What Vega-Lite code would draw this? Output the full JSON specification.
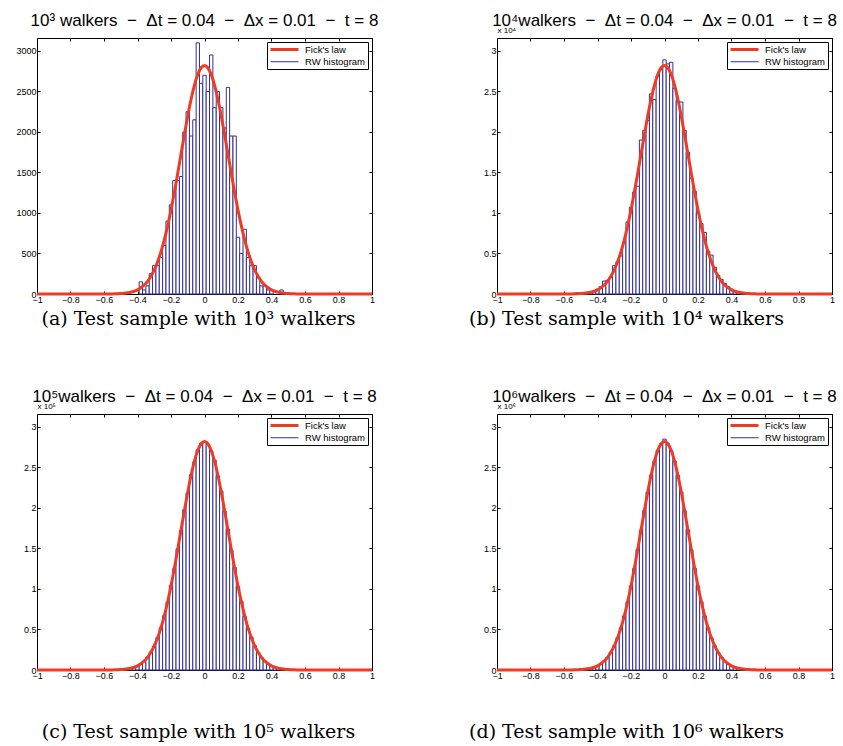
{
  "$schema": "https://vega.github.io/schema/vega-lite/v6.json",
  "background": "white",
  "padding": {"left": 15, "top": 11, "right": 5, "bottom": 5},
  "config": {
    "view": {"stroke": "black", "strokeWidth": 1},
    "axis": {"labelFont": "Liberation Sans", "labelFontSize": 9, "labelColor": "black", "tickColor": "black", "tickSize": -3, "labelPadding": 4, "domain": false, "grid": false, "titleFontWeight": "normal", "titleColor": "black", "labelOverlap": false, "labelFlush": false},
    "axisBottom": {"titleFont": "DejaVu Serif", "titleFontSize": 19},
    "title": {"font": "Liberation Sans", "fontSize": 17, "fontWeight": "normal", "color": "black", "offset": -4, "anchor": "middle", "baseline": "alphabetic", "frame": "group"},
    "legend": {"title": null, "orient": "top-right", "offset": 4, "strokeColor": "black", "fillColor": "white", "padding": 2, "cornerRadius": 0, "labelFont": "Liberation Sans", "labelFontSize": 9.5, "labelColor": "black", "symbolType": "M-1,0H6", "symbolSize": 64, "labelOffset": 25, "rowPadding": 0}
  },
  "datasets": {
    "curveA": [
      {"x": -1, "y": 0, "series": "Fick's law"}, {"x": -0.8, "y": 0, "series": "Fick's law"}, {"x": -0.7, "y": 0.05, "series": "Fick's law"}, {"x": -0.6, "y": 0.35, "series": "Fick's law"}, {"x": -0.58, "y": 0.6, "series": "Fick's law"}, {"x": -0.56, "y": 1.1, "series": "Fick's law"}, {"x": -0.54, "y": 1.9, "series": "Fick's law"}, {"x": -0.52, "y": 3.3, "series": "Fick's law"}, {"x": -0.5, "y": 5.4, "series": "Fick's law"}, {"x": -0.48, "y": 8.9, "series": "Fick's law"}, {"x": -0.46, "y": 14.2, "series": "Fick's law"}, {"x": -0.44, "y": 22.3, "series": "Fick's law"}, {"x": -0.42, "y": 34.3, "series": "Fick's law"}, {"x": -0.4, "y": 51.7, "series": "Fick's law"}, {"x": -0.38, "y": 76.3, "series": "Fick's law"}, {"x": -0.36, "y": 110.5, "series": "Fick's law"}, {"x": -0.34, "y": 156.8, "series": "Fick's law"}, {"x": -0.32, "y": 218.1, "series": "Fick's law"}, {"x": -0.3, "y": 297.3, "series": "Fick's law"}, {"x": -0.28, "y": 397.4, "series": "Fick's law"}, {"x": -0.26, "y": 520.5, "series": "Fick's law"}, {"x": -0.24, "y": 668.4, "series": "Fick's law"}, {"x": -0.22, "y": 841.2, "series": "Fick's law"}, {"x": -0.2, "y": 1037.8, "series": "Fick's law"}, {"x": -0.18, "y": 1255, "series": "Fick's law"}, {"x": -0.16, "y": 1487.5, "series": "Fick's law"}, {"x": -0.14, "y": 1728.2, "series": "Fick's law"}, {"x": -0.12, "y": 1968.2, "series": "Fick's law"}, {"x": -0.1, "y": 2197, "series": "Fick's law"}, {"x": -0.08, "y": 2403.9, "series": "Fick's law"}, {"x": -0.06, "y": 2578.2, "series": "Fick's law"}, {"x": -0.04, "y": 2710.4, "series": "Fick's law"}, {"x": -0.02, "y": 2792.9, "series": "Fick's law"}, {"x": 0, "y": 2820.9, "series": "Fick's law"},
      {"x": 0.02, "y": 2792.9, "series": "Fick's law"}, {"x": 0.04, "y": 2710.4, "series": "Fick's law"}, {"x": 0.06, "y": 2578.2, "series": "Fick's law"}, {"x": 0.08, "y": 2403.9, "series": "Fick's law"}, {"x": 0.1, "y": 2197, "series": "Fick's law"}, {"x": 0.12, "y": 1968.2, "series": "Fick's law"}, {"x": 0.14, "y": 1728.2, "series": "Fick's law"}, {"x": 0.16, "y": 1487.5, "series": "Fick's law"}, {"x": 0.18, "y": 1255, "series": "Fick's law"}, {"x": 0.2, "y": 1037.8, "series": "Fick's law"}, {"x": 0.22, "y": 841.2, "series": "Fick's law"}, {"x": 0.24, "y": 668.4, "series": "Fick's law"}, {"x": 0.26, "y": 520.5, "series": "Fick's law"}, {"x": 0.28, "y": 397.4, "series": "Fick's law"}, {"x": 0.3, "y": 297.3, "series": "Fick's law"}, {"x": 0.32, "y": 218.1, "series": "Fick's law"}, {"x": 0.34, "y": 156.8, "series": "Fick's law"}, {"x": 0.36, "y": 110.5, "series": "Fick's law"}, {"x": 0.38, "y": 76.3, "series": "Fick's law"}, {"x": 0.4, "y": 51.7, "series": "Fick's law"}, {"x": 0.42, "y": 34.3, "series": "Fick's law"}, {"x": 0.44, "y": 22.3, "series": "Fick's law"}, {"x": 0.46, "y": 14.2, "series": "Fick's law"}, {"x": 0.48, "y": 8.9, "series": "Fick's law"}, {"x": 0.5, "y": 5.4, "series": "Fick's law"}, {"x": 0.52, "y": 3.3, "series": "Fick's law"}, {"x": 0.54, "y": 1.9, "series": "Fick's law"}, {"x": 0.56, "y": 1.1, "series": "Fick's law"}, {"x": 0.58, "y": 0.6, "series": "Fick's law"}, {"x": 0.6, "y": 0.35, "series": "Fick's law"}, {"x": 0.7, "y": 0.05, "series": "Fick's law"}, {"x": 0.8, "y": 0, "series": "Fick's law"}, {"x": 1, "y": 0, "series": "Fick's law"}
    ],
    "curve": [
      {"x": -1, "y": 0, "series": "Fick's law"}, {"x": -0.8, "y": 0, "series": "Fick's law"}, {"x": -0.7, "y": 0.00005, "series": "Fick's law"}, {"x": -0.6, "y": 0.00035, "series": "Fick's law"}, {"x": -0.58, "y": 0.0006, "series": "Fick's law"}, {"x": -0.56, "y": 0.0011, "series": "Fick's law"}, {"x": -0.54, "y": 0.0019, "series": "Fick's law"}, {"x": -0.52, "y": 0.0033, "series": "Fick's law"}, {"x": -0.5, "y": 0.0054, "series": "Fick's law"}, {"x": -0.48, "y": 0.0089, "series": "Fick's law"}, {"x": -0.46, "y": 0.0142, "series": "Fick's law"}, {"x": -0.44, "y": 0.0223, "series": "Fick's law"}, {"x": -0.42, "y": 0.0343, "series": "Fick's law"}, {"x": -0.4, "y": 0.0517, "series": "Fick's law"}, {"x": -0.38, "y": 0.0763, "series": "Fick's law"}, {"x": -0.36, "y": 0.1105, "series": "Fick's law"}, {"x": -0.34, "y": 0.1568, "series": "Fick's law"}, {"x": -0.32, "y": 0.2181, "series": "Fick's law"}, {"x": -0.3, "y": 0.2973, "series": "Fick's law"}, {"x": -0.28, "y": 0.3974, "series": "Fick's law"}, {"x": -0.26, "y": 0.5205, "series": "Fick's law"}, {"x": -0.24, "y": 0.6684, "series": "Fick's law"}, {"x": -0.22, "y": 0.8412, "series": "Fick's law"}, {"x": -0.2, "y": 1.0378, "series": "Fick's law"}, {"x": -0.18, "y": 1.255, "series": "Fick's law"}, {"x": -0.16, "y": 1.4875, "series": "Fick's law"}, {"x": -0.14, "y": 1.7282, "series": "Fick's law"}, {"x": -0.12, "y": 1.9682, "series": "Fick's law"}, {"x": -0.1, "y": 2.197, "series": "Fick's law"}, {"x": -0.08, "y": 2.4039, "series": "Fick's law"}, {"x": -0.06, "y": 2.5782, "series": "Fick's law"}, {"x": -0.04, "y": 2.7104, "series": "Fick's law"}, {"x": -0.02, "y": 2.7929, "series": "Fick's law"}, {"x": 0, "y": 2.8209, "series": "Fick's law"},
      {"x": 0.02, "y": 2.7929, "series": "Fick's law"}, {"x": 0.04, "y": 2.7104, "series": "Fick's law"}, {"x": 0.06, "y": 2.5782, "series": "Fick's law"}, {"x": 0.08, "y": 2.4039, "series": "Fick's law"}, {"x": 0.1, "y": 2.197, "series": "Fick's law"}, {"x": 0.12, "y": 1.9682, "series": "Fick's law"}, {"x": 0.14, "y": 1.7282, "series": "Fick's law"}, {"x": 0.16, "y": 1.4875, "series": "Fick's law"}, {"x": 0.18, "y": 1.255, "series": "Fick's law"}, {"x": 0.2, "y": 1.0378, "series": "Fick's law"}, {"x": 0.22, "y": 0.8412, "series": "Fick's law"}, {"x": 0.24, "y": 0.6684, "series": "Fick's law"}, {"x": 0.26, "y": 0.5205, "series": "Fick's law"}, {"x": 0.28, "y": 0.3974, "series": "Fick's law"}, {"x": 0.3, "y": 0.2973, "series": "Fick's law"}, {"x": 0.32, "y": 0.2181, "series": "Fick's law"}, {"x": 0.34, "y": 0.1568, "series": "Fick's law"}, {"x": 0.36, "y": 0.1105, "series": "Fick's law"}, {"x": 0.38, "y": 0.0763, "series": "Fick's law"}, {"x": 0.4, "y": 0.0517, "series": "Fick's law"}, {"x": 0.42, "y": 0.0343, "series": "Fick's law"}, {"x": 0.44, "y": 0.0223, "series": "Fick's law"}, {"x": 0.46, "y": 0.0142, "series": "Fick's law"}, {"x": 0.48, "y": 0.0089, "series": "Fick's law"}, {"x": 0.5, "y": 0.0054, "series": "Fick's law"}, {"x": 0.52, "y": 0.0033, "series": "Fick's law"}, {"x": 0.54, "y": 0.0019, "series": "Fick's law"}, {"x": 0.56, "y": 0.0011, "series": "Fick's law"}, {"x": 0.58, "y": 0.0006, "series": "Fick's law"}, {"x": 0.6, "y": 0.00035, "series": "Fick's law"}, {"x": 0.7, "y": 0.00005, "series": "Fick's law"}, {"x": 0.8, "y": 0, "series": "Fick's law"}, {"x": 1, "y": 0, "series": "Fick's law"}
    ],
    "barsA": [
      {"x0": -0.39, "x1": -0.37, "y": 150, "series": "RW histogram"}, {"x0": -0.37, "x1": -0.35, "y": 50, "series": "RW histogram"}, {"x0": -0.35, "x1": -0.33, "y": 100, "series": "RW histogram"}, {"x0": -0.33, "x1": -0.31, "y": 250, "series": "RW histogram"}, {"x0": -0.31, "x1": -0.29, "y": 350, "series": "RW histogram"}, {"x0": -0.29, "x1": -0.27, "y": 350, "series": "RW histogram"}, {"x0": -0.27, "x1": -0.25, "y": 450, "series": "RW histogram"}, {"x0": -0.25, "x1": -0.23, "y": 600, "series": "RW histogram"}, {"x0": -0.23, "x1": -0.21, "y": 900, "series": "RW histogram"}, {"x0": -0.21, "x1": -0.19, "y": 1100, "series": "RW histogram"}, {"x0": -0.19, "x1": -0.17, "y": 1400, "series": "RW histogram"}, {"x0": -0.17, "x1": -0.15, "y": 1400, "series": "RW histogram"}, {"x0": -0.15, "x1": -0.13, "y": 1450, "series": "RW histogram"}, {"x0": -0.13, "x1": -0.11, "y": 2000, "series": "RW histogram"}, {"x0": -0.11, "x1": -0.09, "y": 2250, "series": "RW histogram"}, {"x0": -0.09, "x1": -0.07, "y": 1950, "series": "RW histogram"}, {"x0": -0.07, "x1": -0.05, "y": 2150, "series": "RW histogram"}, {"x0": -0.05, "x1": -0.03, "y": 3100, "series": "RW histogram"}, {"x0": -0.03, "x1": -0.01, "y": 2600, "series": "RW histogram"}, {"x0": -0.01, "x1": 0.01, "y": 2700, "series": "RW histogram"}, {"x0": 0.01, "x1": 0.03, "y": 2500, "series": "RW histogram"}, {"x0": 0.03, "x1": 0.05, "y": 2950, "series": "RW histogram"}, {"x0": 0.05, "x1": 0.07, "y": 2300, "series": "RW histogram"}, {"x0": 0.07, "x1": 0.09, "y": 2500, "series": "RW histogram"}, {"x0": 0.09, "x1": 0.11, "y": 2300, "series": "RW histogram"}, {"x0": 0.11, "x1": 0.13, "y": 2050, "series": "RW histogram"}, {"x0": 0.13, "x1": 0.15, "y": 2550, "series": "RW histogram"}, {"x0": 0.15, "x1": 0.17, "y": 1950, "series": "RW histogram"}, {"x0": 0.17, "x1": 0.19, "y": 1950, "series": "RW histogram"}, {"x0": 0.19, "x1": 0.21, "y": 700, "series": "RW histogram"}, {"x0": 0.21, "x1": 0.23, "y": 500, "series": "RW histogram"}, {"x0": 0.23, "x1": 0.25, "y": 800, "series": "RW histogram"}, {"x0": 0.25, "x1": 0.27, "y": 450, "series": "RW histogram"}, {"x0": 0.27, "x1": 0.29, "y": 350, "series": "RW histogram"}, {"x0": 0.29, "x1": 0.31, "y": 350, "series": "RW histogram"}, {"x0": 0.31, "x1": 0.33, "y": 200, "series": "RW histogram"}, {"x0": 0.33, "x1": 0.35, "y": 100, "series": "RW histogram"}, {"x0": 0.35, "x1": 0.37, "y": 100, "series": "RW histogram"}, {"x0": 0.37, "x1": 0.39, "y": 50, "series": "RW histogram"}, {"x0": 0.39, "x1": 0.41, "y": 50, "series": "RW histogram"}, {"x0": 0.45, "x1": 0.47, "y": 50, "series": "RW histogram"}
    ],
    "barsB": [
      {"x0": -0.53, "x1": -0.51, "y": 0.015, "series": "RW histogram"}, {"x0": -0.51, "x1": -0.49, "y": 0.005, "series": "RW histogram"}, {"x0": -0.49, "x1": -0.47, "y": 0.005, "series": "RW histogram"}, {"x0": -0.47, "x1": -0.45, "y": 0.01, "series": "RW histogram"}, {"x0": -0.45, "x1": -0.43, "y": 0.02, "series": "RW histogram"}, {"x0": -0.43, "x1": -0.41, "y": 0.035, "series": "RW histogram"}, {"x0": -0.41, "x1": -0.39, "y": 0.06, "series": "RW histogram"}, {"x0": -0.39, "x1": -0.37, "y": 0.09, "series": "RW histogram"}, {"x0": -0.37, "x1": -0.35, "y": 0.16, "series": "RW histogram"}, {"x0": -0.35, "x1": -0.33, "y": 0.17, "series": "RW histogram"}, {"x0": -0.33, "x1": -0.31, "y": 0.21, "series": "RW histogram"}, {"x0": -0.31, "x1": -0.29, "y": 0.35, "series": "RW histogram"}, {"x0": -0.29, "x1": -0.27, "y": 0.4, "series": "RW histogram"}, {"x0": -0.27, "x1": -0.25, "y": 0.47, "series": "RW histogram"}, {"x0": -0.25, "x1": -0.23, "y": 0.64, "series": "RW histogram"}, {"x0": -0.23, "x1": -0.21, "y": 0.89, "series": "RW histogram"}, {"x0": -0.21, "x1": -0.19, "y": 1.07, "series": "RW histogram"}, {"x0": -0.19, "x1": -0.17, "y": 1.26, "series": "RW histogram"}, {"x0": -0.17, "x1": -0.15, "y": 1.33, "series": "RW histogram"}, {"x0": -0.15, "x1": -0.13, "y": 1.9, "series": "RW histogram"}, {"x0": -0.13, "x1": -0.11, "y": 2.02, "series": "RW histogram"}, {"x0": -0.11, "x1": -0.09, "y": 2.14, "series": "RW histogram"}, {"x0": -0.09, "x1": -0.07, "y": 2.47, "series": "RW histogram"}, {"x0": -0.07, "x1": -0.05, "y": 2.4, "series": "RW histogram"}, {"x0": -0.05, "x1": -0.03, "y": 2.69, "series": "RW histogram"}, {"x0": -0.03, "x1": -0.01, "y": 2.77, "series": "RW histogram"}, {"x0": -0.01, "x1": 0.01, "y": 2.89, "series": "RW histogram"}, {"x0": 0.01, "x1": 0.03, "y": 2.84, "series": "RW histogram"}, {"x0": 0.03, "x1": 0.05, "y": 2.86, "series": "RW histogram"}, {"x0": 0.05, "x1": 0.07, "y": 2.54, "series": "RW histogram"}, {"x0": 0.07, "x1": 0.09, "y": 2.38, "series": "RW histogram"}, {"x0": 0.09, "x1": 0.11, "y": 2.37, "series": "RW histogram"}, {"x0": 0.11, "x1": 0.13, "y": 2.02, "series": "RW histogram"}, {"x0": 0.13, "x1": 0.15, "y": 1.75, "series": "RW histogram"}, {"x0": 0.15, "x1": 0.17, "y": 1.43, "series": "RW histogram"}, {"x0": 0.17, "x1": 0.19, "y": 1.27, "series": "RW histogram"}, {"x0": 0.19, "x1": 0.21, "y": 1.0, "series": "RW histogram"}, {"x0": 0.21, "x1": 0.23, "y": 0.87, "series": "RW histogram"}, {"x0": 0.23, "x1": 0.25, "y": 0.76, "series": "RW histogram"}, {"x0": 0.25, "x1": 0.27, "y": 0.53, "series": "RW histogram"}, {"x0": 0.27, "x1": 0.29, "y": 0.48, "series": "RW histogram"}, {"x0": 0.29, "x1": 0.31, "y": 0.33, "series": "RW histogram"}, {"x0": 0.31, "x1": 0.33, "y": 0.23, "series": "RW histogram"}, {"x0": 0.33, "x1": 0.35, "y": 0.18, "series": "RW histogram"}, {"x0": 0.35, "x1": 0.37, "y": 0.13, "series": "RW histogram"}, {"x0": 0.37, "x1": 0.39, "y": 0.09, "series": "RW histogram"}, {"x0": 0.39, "x1": 0.41, "y": 0.06, "series": "RW histogram"}, {"x0": 0.41, "x1": 0.43, "y": 0.035, "series": "RW histogram"}, {"x0": 0.43, "x1": 0.45, "y": 0.02, "series": "RW histogram"}, {"x0": 0.45, "x1": 0.47, "y": 0.01, "series": "RW histogram"}, {"x0": 0.47, "x1": 0.49, "y": 0.01, "series": "RW histogram"}, {"x0": 0.49, "x1": 0.51, "y": 0.005, "series": "RW histogram"}, {"x0": 0.51, "x1": 0.53, "y": 0.005, "series": "RW histogram"}
    ],
    "barsC": [
      {"x0": -0.57, "x1": -0.55, "y": 0.001, "series": "RW histogram"}, {"x0": -0.55, "x1": -0.53, "y": 0.002, "series": "RW histogram"}, {"x0": -0.53, "x1": -0.51, "y": 0.003, "series": "RW histogram"}, {"x0": -0.51, "x1": -0.49, "y": 0.005, "series": "RW histogram"}, {"x0": -0.49, "x1": -0.47, "y": 0.009, "series": "RW histogram"}, {"x0": -0.47, "x1": -0.45, "y": 0.014, "series": "RW histogram"}, {"x0": -0.45, "x1": -0.43, "y": 0.022, "series": "RW histogram"}, {"x0": -0.43, "x1": -0.41, "y": 0.034, "series": "RW histogram"}, {"x0": -0.41, "x1": -0.39, "y": 0.051, "series": "RW histogram"}, {"x0": -0.39, "x1": -0.37, "y": 0.077, "series": "RW histogram"}, {"x0": -0.37, "x1": -0.35, "y": 0.111, "series": "RW histogram"}, {"x0": -0.35, "x1": -0.33, "y": 0.16, "series": "RW histogram"}, {"x0": -0.33, "x1": -0.31, "y": 0.22, "series": "RW histogram"}, {"x0": -0.31, "x1": -0.29, "y": 0.293, "series": "RW histogram"}, {"x0": -0.29, "x1": -0.27, "y": 0.4, "series": "RW histogram"}, {"x0": -0.27, "x1": -0.25, "y": 0.525, "series": "RW histogram"}, {"x0": -0.25, "x1": -0.23, "y": 0.671, "series": "RW histogram"}, {"x0": -0.23, "x1": -0.21, "y": 0.836, "series": "RW histogram"}, {"x0": -0.21, "x1": -0.19, "y": 1.046, "series": "RW histogram"}, {"x0": -0.19, "x1": -0.17, "y": 1.25, "series": "RW histogram"}, {"x0": -0.17, "x1": -0.15, "y": 1.495, "series": "RW histogram"}, {"x0": -0.15, "x1": -0.13, "y": 1.722, "series": "RW histogram"}, {"x0": -0.13, "x1": -0.11, "y": 1.978, "series": "RW histogram"}, {"x0": -0.11, "x1": -0.09, "y": 2.185, "series": "RW histogram"}, {"x0": -0.09, "x1": -0.07, "y": 2.412, "series": "RW histogram"}, {"x0": -0.07, "x1": -0.05, "y": 2.57, "series": "RW histogram"}, {"x0": -0.05, "x1": -0.03, "y": 2.718, "series": "RW histogram"}, {"x0": -0.03, "x1": -0.01, "y": 2.8, "series": "RW histogram"}, {"x0": -0.01, "x1": 0.01, "y": 2.812, "series": "RW histogram"}, {"x0": 0.01, "x1": 0.03, "y": 2.785, "series": "RW histogram"}, {"x0": 0.03, "x1": 0.05, "y": 2.703, "series": "RW histogram"}, {"x0": 0.05, "x1": 0.07, "y": 2.589, "series": "RW histogram"}, {"x0": 0.07, "x1": 0.09, "y": 2.395, "series": "RW histogram"}, {"x0": 0.09, "x1": 0.11, "y": 2.21, "series": "RW histogram"}, {"x0": 0.11, "x1": 0.13, "y": 1.96, "series": "RW histogram"}, {"x0": 0.13, "x1": 0.15, "y": 1.738, "series": "RW histogram"}, {"x0": 0.15, "x1": 0.17, "y": 1.48, "series": "RW histogram"}, {"x0": 0.17, "x1": 0.19, "y": 1.266, "series": "RW histogram"}, {"x0": 0.19, "x1": 0.21, "y": 1.03, "series": "RW histogram"}, {"x0": 0.21, "x1": 0.23, "y": 0.848, "series": "RW histogram"}, {"x0": 0.23, "x1": 0.25, "y": 0.662, "series": "RW histogram"}, {"x0": 0.25, "x1": 0.27, "y": 0.515, "series": "RW histogram"}, {"x0": 0.27, "x1": 0.29, "y": 0.405, "series": "RW histogram"}, {"x0": 0.29, "x1": 0.31, "y": 0.3, "series": "RW histogram"}, {"x0": 0.31, "x1": 0.33, "y": 0.214, "series": "RW histogram"}, {"x0": 0.33, "x1": 0.35, "y": 0.155, "series": "RW histogram"}, {"x0": 0.35, "x1": 0.37, "y": 0.11, "series": "RW histogram"}, {"x0": 0.37, "x1": 0.39, "y": 0.075, "series": "RW histogram"}, {"x0": 0.39, "x1": 0.41, "y": 0.053, "series": "RW histogram"}, {"x0": 0.41, "x1": 0.43, "y": 0.034, "series": "RW histogram"}, {"x0": 0.43, "x1": 0.45, "y": 0.022, "series": "RW histogram"}, {"x0": 0.45, "x1": 0.47, "y": 0.014, "series": "RW histogram"}, {"x0": 0.47, "x1": 0.49, "y": 0.009, "series": "RW histogram"}, {"x0": 0.49, "x1": 0.51, "y": 0.005, "series": "RW histogram"}, {"x0": 0.51, "x1": 0.53, "y": 0.003, "series": "RW histogram"}, {"x0": 0.53, "x1": 0.55, "y": 0.002, "series": "RW histogram"}, {"x0": 0.55, "x1": 0.57, "y": 0.001, "series": "RW histogram"}
    ],
    "barsD": [
      {"x0": -0.59, "x1": -0.57, "y": 0.0005, "series": "RW histogram"}, {"x0": -0.57, "x1": -0.55, "y": 0.001, "series": "RW histogram"}, {"x0": -0.55, "x1": -0.53, "y": 0.002, "series": "RW histogram"}, {"x0": -0.53, "x1": -0.51, "y": 0.0033, "series": "RW histogram"}, {"x0": -0.51, "x1": -0.49, "y": 0.0055, "series": "RW histogram"}, {"x0": -0.49, "x1": -0.47, "y": 0.009, "series": "RW histogram"}, {"x0": -0.47, "x1": -0.45, "y": 0.0141, "series": "RW histogram"}, {"x0": -0.45, "x1": -0.43, "y": 0.0224, "series": "RW histogram"}, {"x0": -0.43, "x1": -0.41, "y": 0.0342, "series": "RW histogram"}, {"x0": -0.41, "x1": -0.39, "y": 0.0519, "series": "RW histogram"}, {"x0": -0.39, "x1": -0.37, "y": 0.0761, "series": "RW histogram"}, {"x0": -0.37, "x1": -0.35, "y": 0.1108, "series": "RW histogram"}, {"x0": -0.35, "x1": -0.33, "y": 0.1565, "series": "RW histogram"}, {"x0": -0.33, "x1": -0.31, "y": 0.2185, "series": "RW histogram"}, {"x0": -0.31, "x1": -0.29, "y": 0.2968, "series": "RW histogram"}, {"x0": -0.29, "x1": -0.27, "y": 0.398, "series": "RW histogram"}, {"x0": -0.27, "x1": -0.25, "y": 0.5199, "series": "RW histogram"}, {"x0": -0.25, "x1": -0.23, "y": 0.669, "series": "RW histogram"}, {"x0": -0.23, "x1": -0.21, "y": 0.8405, "series": "RW histogram"}, {"x0": -0.21, "x1": -0.19, "y": 1.039, "series": "RW histogram"}, {"x0": -0.19, "x1": -0.17, "y": 1.254, "series": "RW histogram"}, {"x0": -0.17, "x1": -0.15, "y": 1.4885, "series": "RW histogram"}, {"x0": -0.15, "x1": -0.13, "y": 1.727, "series": "RW histogram"}, {"x0": -0.13, "x1": -0.11, "y": 1.9695, "series": "RW histogram"}, {"x0": -0.11, "x1": -0.09, "y": 2.1955, "series": "RW histogram"}, {"x0": -0.09, "x1": -0.07, "y": 2.405, "series": "RW histogram"}, {"x0": -0.07, "x1": -0.05, "y": 2.577, "series": "RW histogram"}, {"x0": -0.05, "x1": -0.03, "y": 2.712, "series": "RW histogram"}, {"x0": -0.03, "x1": -0.01, "y": 2.795, "series": "RW histogram"}, {"x0": -0.01, "x1": 0.01, "y": 2.85, "series": "RW histogram"}, {"x0": 0.01, "x1": 0.03, "y": 2.7915, "series": "RW histogram"}, {"x0": 0.03, "x1": 0.05, "y": 2.709, "series": "RW histogram"}, {"x0": 0.05, "x1": 0.07, "y": 2.5795, "series": "RW histogram"}, {"x0": 0.07, "x1": 0.09, "y": 2.4025, "series": "RW histogram"}, {"x0": 0.09, "x1": 0.11, "y": 2.1985, "series": "RW histogram"}, {"x0": 0.11, "x1": 0.13, "y": 1.967, "series": "RW histogram"}, {"x0": 0.13, "x1": 0.15, "y": 1.7295, "series": "RW histogram"}, {"x0": 0.15, "x1": 0.17, "y": 1.4862, "series": "RW histogram"}, {"x0": 0.17, "x1": 0.19, "y": 1.2561, "series": "RW histogram"}, {"x0": 0.19, "x1": 0.21, "y": 1.0368, "series": "RW histogram"}, {"x0": 0.21, "x1": 0.23, "y": 0.842, "series": "RW histogram"}, {"x0": 0.23, "x1": 0.25, "y": 0.6678, "series": "RW histogram"}, {"x0": 0.25, "x1": 0.27, "y": 0.5212, "series": "RW histogram"}, {"x0": 0.27, "x1": 0.29, "y": 0.3968, "series": "RW histogram"}, {"x0": 0.29, "x1": 0.31, "y": 0.2979, "series": "RW histogram"}, {"x0": 0.31, "x1": 0.33, "y": 0.2176, "series": "RW histogram"}, {"x0": 0.33, "x1": 0.35, "y": 0.1572, "series": "RW histogram"}, {"x0": 0.35, "x1": 0.37, "y": 0.1101, "series": "RW histogram"}, {"x0": 0.37, "x1": 0.39, "y": 0.0766, "series": "RW histogram"}, {"x0": 0.39, "x1": 0.41, "y": 0.0514, "series": "RW histogram"}, {"x0": 0.41, "x1": 0.43, "y": 0.0345, "series": "RW histogram"}, {"x0": 0.43, "x1": 0.45, "y": 0.0221, "series": "RW histogram"}, {"x0": 0.45, "x1": 0.47, "y": 0.0143, "series": "RW histogram"}, {"x0": 0.47, "x1": 0.49, "y": 0.0088, "series": "RW histogram"}, {"x0": 0.49, "x1": 0.51, "y": 0.0054, "series": "RW histogram"}, {"x0": 0.51, "x1": 0.53, "y": 0.0034, "series": "RW histogram"}, {"x0": 0.53, "x1": 0.55, "y": 0.0019, "series": "RW histogram"}, {"x0": 0.55, "x1": 0.57, "y": 0.0011, "series": "RW histogram"}, {"x0": 0.57, "x1": 0.59, "y": 0.0006, "series": "RW histogram"}
    ]
  },
  "columns": 2,
  "spacing": {"row": 120, "column": 125},
  "bounds": "flush",
  "resolve": {
    "scale": {"x": "independent", "y": "independent", "stroke": "independent", "strokeWidth": "independent"},
    "legend": {"stroke": "independent", "strokeWidth": "independent"}
  },
  "concat": [
    {
      "width": 335, "height": 256,
      "title": {"text": "10³ walkers \u00a0− \u00a0Δt = 0.04 \u00a0− \u00a0Δx = 0.01 \u00a0− \u00a0t = 8"},
      "layer": [
        {
          "data": {"name": "barsA"},
          "mark": {"type": "rect", "fill": "white"},
          "encoding": {
            "x": {"field": "x0", "type": "quantitative", "scale": {"domain": [-1, 1], "nice": false, "zero": false}, "axis": {"orient": "bottom", "values": [-1, -0.8, -0.6, -0.4, -0.2, 0, 0.2, 0.4, 0.6, 0.8, 1], "format": "~g", "title": "(a) Test sample with 10³ walkers", "titleX": 161, "titleAlign": "center", "titlePadding": 5}},
            "x2": {"field": "x1"},
            "y": {"field": "y", "type": "quantitative", "scale": {"domain": [0, 3160], "nice": false}, "axis": {"orient": "left", "values": [0, 500, 1000, 1500, 2000, 2500, 3000], "format": "d", "title": "\u00a0", "titleAngle": 0, "titleX": 0, "titleY": -6, "titleAlign": "left", "titleBaseline": "alphabetic", "titleFont": "Liberation Sans", "titleFontSize": 8}},
            "y2": {"datum": 0},
            "stroke": {"field": "series", "type": "nominal", "scale": {"domain": ["Fick's law", "RW histogram"], "range": ["#ee3b22", "#30309a"]}},
            "strokeWidth": {"field": "series", "type": "ordinal", "scale": {"domain": ["Fick's law", "RW histogram"], "range": [3, 1]}}
          }
        },
        {
          "data": {"name": "curveA"},
          "mark": {"type": "line", "interpolate": "monotone"},
          "encoding": {
            "x": {"field": "x", "type": "quantitative", "axis": {"orient": "top", "values": [-1, -0.8, -0.6, -0.4, -0.2, 0, 0.2, 0.4, 0.6, 0.8, 1], "labels": false, "title": null}},
            "y": {"field": "y", "type": "quantitative", "axis": {"orient": "right", "values": [0, 500, 1000, 1500, 2000, 2500, 3000], "labels": false, "title": null}},
            "stroke": {"field": "series", "type": "nominal"},
            "strokeWidth": {"field": "series", "type": "ordinal"}
          }
        }
      ],
      "resolve": {"axis": {"x": "independent", "y": "independent"}}
    },
    {
      "width": 335, "height": 256,
      "title": {"text": "10⁴walkers \u00a0− \u00a0Δt = 0.04 \u00a0− \u00a0Δx = 0.01 \u00a0− \u00a0t = 8"},
      "layer": [
        {
          "data": {"name": "barsB"},
          "mark": {"type": "rect", "fill": "white"},
          "encoding": {
            "x": {"field": "x0", "type": "quantitative", "scale": {"domain": [-1, 1], "nice": false, "zero": false}, "axis": {"orient": "bottom", "values": [-1, -0.8, -0.6, -0.4, -0.2, 0, 0.2, 0.4, 0.6, 0.8, 1], "format": "~g", "title": "(b) Test sample with 10⁴ walkers", "titleX": 129, "titleAlign": "center", "titlePadding": 5}},
            "x2": {"field": "x1"},
            "y": {"field": "y", "type": "quantitative", "scale": {"domain": [0, 3.16], "nice": false}, "axis": {"orient": "left", "values": [0, 0.5, 1, 1.5, 2, 2.5, 3], "format": "~g", "title": "x 10⁴", "titleAngle": 0, "titleX": 0, "titleY": -6, "titleAlign": "left", "titleBaseline": "alphabetic", "titleFont": "Liberation Sans", "titleFontSize": 8}},
            "y2": {"datum": 0},
            "stroke": {"field": "series", "type": "nominal", "scale": {"domain": ["Fick's law", "RW histogram"], "range": ["#ee3b22", "#30309a"]}},
            "strokeWidth": {"field": "series", "type": "ordinal", "scale": {"domain": ["Fick's law", "RW histogram"], "range": [3, 1]}}
          }
        },
        {
          "data": {"name": "curve"},
          "mark": {"type": "line", "interpolate": "monotone"},
          "encoding": {
            "x": {"field": "x", "type": "quantitative", "axis": {"orient": "top", "values": [-1, -0.8, -0.6, -0.4, -0.2, 0, 0.2, 0.4, 0.6, 0.8, 1], "labels": false, "title": null}},
            "y": {"field": "y", "type": "quantitative", "axis": {"orient": "right", "values": [0, 0.5, 1, 1.5, 2, 2.5, 3], "labels": false, "title": null}},
            "stroke": {"field": "series", "type": "nominal"},
            "strokeWidth": {"field": "series", "type": "ordinal"}
          }
        }
      ],
      "resolve": {"axis": {"x": "independent", "y": "independent"}}
    },
    {
      "width": 335, "height": 256,
      "title": {"text": "10⁵walkers \u00a0− \u00a0Δt = 0.04 \u00a0− \u00a0Δx = 0.01 \u00a0− \u00a0t = 8"},
      "layer": [
        {
          "data": {"name": "barsC"},
          "mark": {"type": "rect", "fill": "white"},
          "encoding": {
            "x": {"field": "x0", "type": "quantitative", "scale": {"domain": [-1, 1], "nice": false, "zero": false}, "axis": {"orient": "bottom", "values": [-1, -0.8, -0.6, -0.4, -0.2, 0, 0.2, 0.4, 0.6, 0.8, 1], "format": "~g", "title": "(c) Test sample with 10⁵ walkers", "titleX": 161, "titleAlign": "center", "titlePadding": 42}},
            "x2": {"field": "x1"},
            "y": {"field": "y", "type": "quantitative", "scale": {"domain": [0, 3.16], "nice": false}, "axis": {"orient": "left", "values": [0, 0.5, 1, 1.5, 2, 2.5, 3], "format": "~g", "title": "x 10⁵", "titleAngle": 0, "titleX": 0, "titleY": -6, "titleAlign": "left", "titleBaseline": "alphabetic", "titleFont": "Liberation Sans", "titleFontSize": 8}},
            "y2": {"datum": 0},
            "stroke": {"field": "series", "type": "nominal", "scale": {"domain": ["Fick's law", "RW histogram"], "range": ["#ee3b22", "#30309a"]}},
            "strokeWidth": {"field": "series", "type": "ordinal", "scale": {"domain": ["Fick's law", "RW histogram"], "range": [3, 1]}}
          }
        },
        {
          "data": {"name": "curve"},
          "mark": {"type": "line", "interpolate": "monotone"},
          "encoding": {
            "x": {"field": "x", "type": "quantitative", "axis": {"orient": "top", "values": [-1, -0.8, -0.6, -0.4, -0.2, 0, 0.2, 0.4, 0.6, 0.8, 1], "labels": false, "title": null}},
            "y": {"field": "y", "type": "quantitative", "axis": {"orient": "right", "values": [0, 0.5, 1, 1.5, 2, 2.5, 3], "labels": false, "title": null}},
            "stroke": {"field": "series", "type": "nominal"},
            "strokeWidth": {"field": "series", "type": "ordinal"}
          }
        }
      ],
      "resolve": {"axis": {"x": "independent", "y": "independent"}}
    },
    {
      "width": 335, "height": 256,
      "title": {"text": "10⁶walkers \u00a0− \u00a0Δt = 0.04 \u00a0− \u00a0Δx = 0.01 \u00a0− \u00a0t = 8"},
      "layer": [
        {
          "data": {"name": "barsD"},
          "mark": {"type": "rect", "fill": "white"},
          "encoding": {
            "x": {"field": "x0", "type": "quantitative", "scale": {"domain": [-1, 1], "nice": false, "zero": false}, "axis": {"orient": "bottom", "values": [-1, -0.8, -0.6, -0.4, -0.2, 0, 0.2, 0.4, 0.6, 0.8, 1], "format": "~g", "title": "(d) Test sample with 10⁶ walkers", "titleX": 129, "titleAlign": "center", "titlePadding": 42}},
            "x2": {"field": "x1"},
            "y": {"field": "y", "type": "quantitative", "scale": {"domain": [0, 3.16], "nice": false}, "axis": {"orient": "left", "values": [0, 0.5, 1, 1.5, 2, 2.5, 3], "format": "~g", "title": "x 10⁶", "titleAngle": 0, "titleX": 0, "titleY": -6, "titleAlign": "left", "titleBaseline": "alphabetic", "titleFont": "Liberation Sans", "titleFontSize": 8}},
            "y2": {"datum": 0},
            "stroke": {"field": "series", "type": "nominal", "scale": {"domain": ["Fick's law", "RW histogram"], "range": ["#ee3b22", "#30309a"]}},
            "strokeWidth": {"field": "series", "type": "ordinal", "scale": {"domain": ["Fick's law", "RW histogram"], "range": [3, 1]}}
          }
        },
        {
          "data": {"name": "curve"},
          "mark": {"type": "line", "interpolate": "monotone"},
          "encoding": {
            "x": {"field": "x", "type": "quantitative", "axis": {"orient": "top", "values": [-1, -0.8, -0.6, -0.4, -0.2, 0, 0.2, 0.4, 0.6, 0.8, 1], "labels": false, "title": null}},
            "y": {"field": "y", "type": "quantitative", "axis": {"orient": "right", "values": [0, 0.5, 1, 1.5, 2, 2.5, 3], "labels": false, "title": null}},
            "stroke": {"field": "series", "type": "nominal"},
            "strokeWidth": {"field": "series", "type": "ordinal"}
          }
        }
      ],
      "resolve": {"axis": {"x": "independent", "y": "independent"}}
    }
  ]
}
